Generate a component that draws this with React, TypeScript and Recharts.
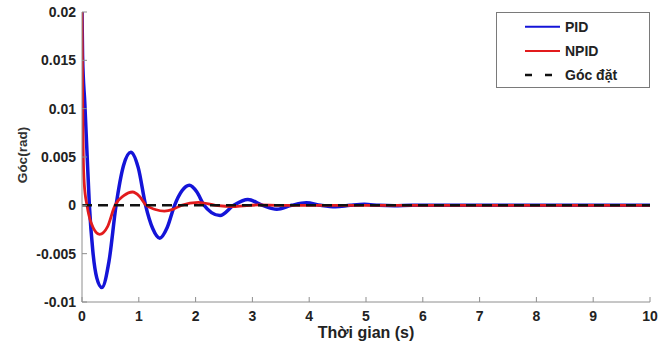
import React from 'react';
import { LineChart, Line, XAxis, YAxis, Legend } from 'recharts';

// ---- Data ----
const pidTime = [0, 0.01, 0.05, 0.09, 0.13, 0.19, 0.26, 0.35, 0.475, 0.6, 0.73, 0.86, 0.99, 1.12, 1.245, 1.37, 1.5, 1.63, 1.76, 1.89, 2.02, 2.15, 2.28, 2.43, 2.67, 2.92, 3.18, 3.43, 3.69, 3.95, 4.2, 4.46, 4.72, 4.97, 5.23, 5.5, 5.8, 6.5, 8, 10];
const pidValue = [0.02, 0.0155, 0.0105, 0.0052, 0, -0.0047, -0.0075, -0.0085, -0.0058, 0, 0.0041, 0.0055, 0.0039, 0, -0.0024, -0.0034, -0.0023, 0, 0.0015, 0.00207, 0.0014, 0, -0.00075, -0.00105, 0, 0.0006, 0, -0.0004, 0, 0.00026, 0, -0.00015, 0, 0.0001, 0, -0.00004, 0, 0, 0, 0];

const npidTime = [0, 0.01, 0.022, 0.04, 0.088, 0.16, 0.31, 0.45, 0.58, 0.735, 0.89, 1.01, 1.13, 1.29, 1.45, 1.6, 1.75, 2.05, 2.35, 2.7, 3.1, 3.5, 4, 6, 10];
const npidValue = [0.02, 0.012, 0.0052, 0.0022, 0, -0.0018, -0.003, -0.0022, 0, 0.001, 0.00138, 0.00095, 0, -0.00043, -0.0006, -0.00042, 0, 0.0003, 0, -0.00012, 0.00004, 0, 0, 0, 0];

const setTime = [0, 10];
const setValue = [0, 0];

const seriesNames = ['PID', 'NPID', 'Góc đặt'];
const xTicks = [0, 1, 2, 3, 4, 5, 6, 7, 8, 9, 10];
const yTicks = [-0.01, -0.005, 0, 0.005, 0.01, 0.015, 0.02];
const xLabel = 'Thời gian (s)';
const yLabel = 'Góc(rad)';

const toPoints = (ts: number[], vs: number[]) => ts.map((t, i) => ({ t, v: vs[i] }));
const pidData = toPoints(pidTime, pidValue);
const npidData = toPoints(npidTime, npidValue);
const setData = toPoints(setTime, setValue);

const BLUE = '#1414d8';
const RED = '#e21b1d';
const BLACK = '#111111';
const AXIS = '#8e8e8e';
const FONT = '"Liberation Sans", Arial, sans-serif';

const legendItems = [
  { name: seriesNames[0], color: BLUE, dash: undefined as string | undefined, w: 2 },
  { name: seriesNames[1], color: RED, dash: undefined as string | undefined, w: 2 },
  { name: seriesNames[2], color: BLACK, dash: '7 13', w: 2.5 },
];

const LegendBox = () => (
  <div
    style={{
      width: 154,
      height: 76,
      border: '1px solid #7a7a7a',
      background: '#fff',
      boxSizing: 'border-box',
      position: 'relative',
    }}
  >
    <svg width={152} height={74} style={{ position: 'absolute', left: 0, top: 0 }}>
      {legendItems.map((it, i) => {
        const y = 13.7 + i * 24.2;
        return (
          <g key={it.name}>
            <line x1={28} x2={63} y1={y} y2={y} stroke={it.color} strokeWidth={it.w} strokeDasharray={it.dash} />
            <text x={68} y={y} dominantBaseline="central" fontFamily={FONT} fontWeight="bold" fontSize={14} fill="#222">
              {it.name}
            </text>
          </g>
        );
      })}
    </svg>
  </div>
);

const renderYLabel = () => (
  <text
    x={22}
    y={155}
    transform="rotate(-90 22 155)"
    textAnchor="middle"
    dominantBaseline="central"
    fontFamily={FONT}
    fontWeight="bold"
    fontSize={13.5}
    fill="#333"
  >
    {yLabel}
  </text>
);

const tickStyle = { fill: '#222', fontSize: 14, fontWeight: 'bold' as const, fontFamily: FONT };

export default function App() {
  return (
    <>
      <style>{'body{margin:0;background:#fff}'}</style>
      <LineChart width={672} height={346} margin={{ top: 12, right: 22, bottom: 0, left: 0 }}>
        <XAxis
          xAxisId="b"
          dataKey="t"
          type="number"
          domain={[0, 10]}
          ticks={xTicks}
          allowDataOverflow
          height={44}
          stroke={AXIS}
          tickSize={-5}
          tickMargin={14}
          tick={tickStyle}
          label={{ value: xLabel, position: 'insideBottom', offset: 8, fill: '#222', fontSize: 16, fontWeight: 'bold', fontFamily: FONT }}
        />
        <XAxis
          xAxisId="t"
          orientation="top"
          dataKey="t"
          type="number"
          domain={[0, 10]}
          ticks={xTicks}
          allowDataOverflow
          height={0}
          stroke={AXIS}
          tickSize={-5}
          tick={false}
        />
        <YAxis
          yAxisId="l"
          type="number"
          domain={[-0.01, 0.02]}
          ticks={yTicks}
          allowDataOverflow
          width={82}
          stroke={AXIS}
          tickSize={-5}
          tickMargin={11}
          tick={tickStyle}
          tickFormatter={(v: number) => String(v)}
          label={renderYLabel}
        />
        <YAxis
          yAxisId="r"
          orientation="right"
          type="number"
          domain={[-0.01, 0.02]}
          ticks={yTicks}
          allowDataOverflow
          width={0}
          stroke={AXIS}
          tickSize={-5}
          tick={false}
        />
        <Line xAxisId="b" yAxisId="l" data={pidData} dataKey="v" name={seriesNames[0]} type="monotone" stroke={BLUE} strokeWidth={3.5} dot={false} isAnimationActive={false} />
        <Line xAxisId="b" yAxisId="l" data={npidData} dataKey="v" name={seriesNames[1]} type="monotone" stroke={RED} strokeWidth={2.8} dot={false} isAnimationActive={false} />
        <Line xAxisId="b" yAxisId="l" data={setData} dataKey="v" name={seriesNames[2]} type="linear" stroke={BLACK} strokeWidth={2.5} strokeDasharray="10 6" dot={false} isAnimationActive={false} />
        <Legend
          layout="vertical"
          align="center"
          verticalAlign="middle"
          wrapperStyle={{ left: 496, top: 12, width: 154, height: 76 }}
          content={<LegendBox />}
        />
      </LineChart>
    </>
  );
}
